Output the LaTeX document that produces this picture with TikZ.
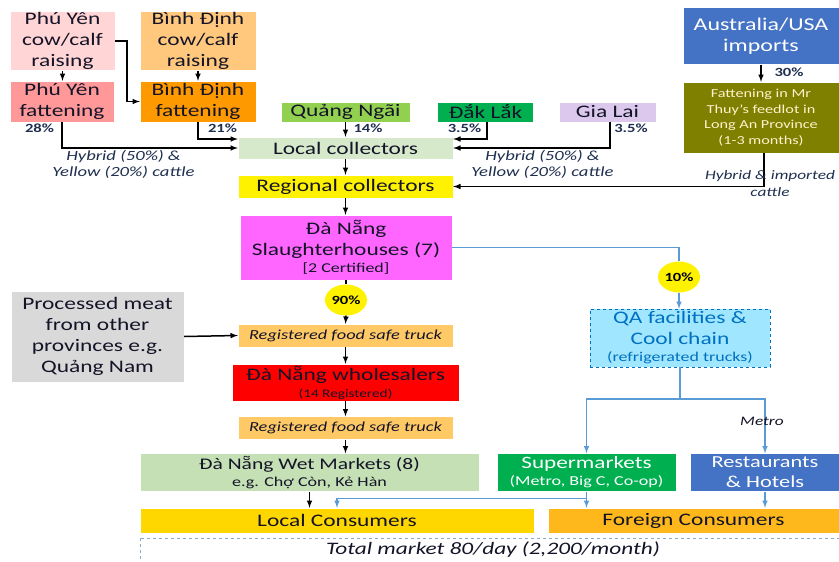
\documentclass[tikz,border=0pt]{standalone}
\usepackage{fontspec}
\setmainfont{Carlito}[FakeStretch=1.33]
\usetikzlibrary{shapes.geometric}

\definecolor{pyraisec}{HTML}{FFD5D5}
\definecolor{bdraisec}{HTML}{FFC87C}
\definecolor{pyfatc}{HTML}{FF9999}
\definecolor{bdfatc}{HTML}{FF9900}
\definecolor{qngaic}{HTML}{92D050}
\definecolor{greenc}{HTML}{00B050}
\definecolor{gialaic}{HTML}{DCC8EC}
\definecolor{localcolc}{HTML}{D6EACB}
\definecolor{bluec}{HTML}{4472C4}
\definecolor{olivec}{HTML}{7F7F00}
\definecolor{creamc}{HTML}{FFF2CC}
\definecolor{magc}{HTML}{FF66FF}
\definecolor{greyc}{HTML}{D9D9D9}
\definecolor{truckc}{HTML}{FFC966}
\definecolor{wetc}{HTML}{C5E0B4}
\definecolor{qac}{HTML}{A0E6FF}
\definecolor{qatext}{HTML}{0070C0}
\definecolor{goldc}{HTML}{FFD700}
\definecolor{ambc}{HTML}{FFB81C}
\definecolor{linkc}{HTML}{5B9BD5}
\definecolor{navyc}{HTML}{1F2F4F}
\definecolor{inkc}{HTML}{141428}
\definecolor{dashc}{HTML}{8EA9C8}

\tikzset{
  box/.style={rectangle, inner sep=1pt, align=center, text=inkc, draw=white, line width=0.4pt},
  big/.style={font=\fontsize{17.6}{21}\selectfont},
  pct/.style={font=\bfseries\fontsize{12.5}{14}\selectfont, text=navyc},
  note/.style={font=\itshape\fontsize{14}{16}\selectfont, text=navyc, align=center},
  bubble/.style={ellipse, fill=yellow, inner sep=0pt, minimum width=42pt, minimum height=31pt, font=\bfseries\fontsize{12.5}{14}\selectfont},
  arr/.style={-latex, line width=1.5pt},
  barr/.style={-latex, line width=1.5pt, color=linkc},
  bline/.style={line width=1.5pt, color=linkc}
}

\begin{document}
\begin{tikzpicture}[x=1pt, y=-1pt]
  \useasboundingbox (0, 0) rectangle (839, 562);

  % sources
  \draw (62.5, 41) node[box, big, fill=pyraisec, minimum width=105pt, minimum height=58pt] (pyraise) {Phú Yên\\cow/calf\\raising};
  \draw (198, 41) node[box, big, fill=bdraisec, minimum width=116pt, minimum height=58pt] (bdraise) {Bình Định\\cow/calf\\raising};
  \draw (62, 101.5) node[box, big, fill=pyfatc, minimum width=104pt, minimum height=41pt] (pyfat) {Phú Yên\\fattening};
  \draw (198, 101.5) node[box, big, fill=bdfatc, minimum width=116pt, minimum height=41pt] (bdfat) {Bình Định\\fattening};
  \draw (345.5, 112) node[box, big, fill=qngaic, minimum width=129pt, minimum height=20pt] (qngai) {Quảng Ngãi};
  \draw (485.5, 112) node[box, big, fill=greenc, minimum width=96pt, minimum height=20pt] (daklak) {Đắk Lắk};
  \draw (607.5, 112) node[box, big, fill=gialaic, minimum width=97pt, minimum height=20pt] (gialai) {Gia Lai};
  \draw (761, 36) node[box, fill=bluec, text=white, minimum width=156pt, minimum height=57pt, font=\fontsize{18}{21}\selectfont] (ausimp) {Australia/USA\\imports};
  \draw (761, 117.5) node[box, fill=olivec, text=creamc, minimum width=156pt, minimum height=71pt, font=\fontsize{12.2}{15.5}\selectfont] (feedlot) {Fattening in Mr\\Thuy’s feedlot in\\Long An Province\\(1-3 months)};

  % collectors
  \draw (345.5, 148) node[box, big, fill=localcolc, minimum width=215pt, minimum height=22pt] (localcol) {Local collectors};
  \draw (345.5, 186.5) node[box, big, fill=yellow, minimum width=215pt, minimum height=23pt] (regcol) {Regional collectors};

  % slaughter and trade
  \draw (346, 247.5) node[box, big, fill=magc, minimum width=212pt, minimum height=65pt] (slaughter) {Đà Nẵng\\Slaughterhouses (7)\\[-4pt]{\fontsize{13.5}{15}\selectfont [2 Certified]}};
  \draw (346, 300) node[bubble] (p90) {90\%};
  \draw (679, 277) node[bubble] (p10) {10\%};
  \draw (97.5, 336.5) node[box, big, fill=greyc, minimum width=173pt, minimum height=91pt] (processed) {Processed meat\\from other\\provinces e.g.\\Quảng Nam};
  \draw (345.5, 335.5) node[box, fill=truckc, minimum width=215pt, minimum height=23pt, font=\itshape\fontsize{13.8}{16}\selectfont] (truckA) {Registered food safe truck};
  \draw (345.5, 382.5) node[box, fill=red, minimum width=227pt, minimum height=37pt, font=\fontsize{17.6}{17}\selectfont] (wholesale) {Đà Nẵng wholesalers\\{\fontsize{11.5}{13}\selectfont (14 Registered)}};
  \draw (345.5, 428) node[box, fill=truckc, minimum width=215pt, minimum height=23pt, font=\itshape\fontsize{13.8}{16}\selectfont] (truckB) {Registered food safe truck};
  \draw (680, 338) node[box, big, fill=qac, text=qatext, draw=qatext, dashed, minimum width=180pt, minimum height=58pt] (qa) {QA facilities \&\\Cool chain\\[-4pt]{\fontsize{13.5}{15}\selectfont (refrigerated trucks)}};

  % retail
  \draw (309.5, 472.5) node[box, fill=wetc, minimum width=339pt, minimum height=38pt, font=\fontsize{16.2}{19}\selectfont] (wetmkt) {Đà Nẵng Wet Markets (8)\\[-2pt]{\fontsize{13.6}{16}\selectfont e.g. Chợ Còn, Kẻ Hàn}};
  \draw (586.5, 472.5) node[box, fill=greenc, text=white, minimum width=179pt, minimum height=38pt, font=\fontsize{17.4}{19}\selectfont] (supermkt) {Supermarkets\\[-2pt]{\fontsize{13.6}{16}\selectfont (Metro, Big C, Co-op)}};
  \draw (765, 472.5) node[box, fill=bluec, text=white, minimum width=150pt, minimum height=38pt, font=\fontsize{16.8}{20}\selectfont] (resto) {Restaurants\\\& Hotels};
  \draw (337, 520.5) node[box, big, fill=goldc, minimum width=394pt, minimum height=25pt] (localcon) {Local Consumers};
  \draw (693.5, 520.5) node[box, big, fill=ambc, minimum width=291pt, minimum height=25pt] (foreigncon) {Foreign Consumers};
  \draw[dashc, dashed] (140, 538) rectangle (845, 570);
  \node[font=\itshape\fontsize{17.5}{20}\selectfont, text=inkc] at (493, 550) (total) {Total market 80/day (2,200/month)};

  % supply links
  \draw[arr] (pyraise.south) -- (pyraise.south |- pyfat.north);
  \draw[arr] (bdraise.south) -- (bdraise.south |- bdfat.north);
  \draw[arr] (pyraise.east) -- ++(12, 0) |- (bdfat.west);
  \draw[arr] (pyfat.south) |- (localcol.west);
  \draw[arr] (bdfat.south) |- ([yshift=9pt]localcol.west);
  \draw[arr] (qngai.south) -- (qngai.south |- localcol.north);
  \draw[arr] ([xshift=1.5pt]daklak.south) |- ([yshift=9pt]localcol.east);
  \draw[arr] ([xshift=2.5pt]gialai.south) |- (localcol.east);
  \draw[arr] (ausimp.south) -- (ausimp.south |- feedlot.north);
  \draw[arr] ([xshift=3pt]feedlot.south) |- (regcol.east);
  \draw[arr] (localcol.south) -- (regcol.north);
  \draw[arr] (regcol.south) -- (regcol.south |- slaughter.north);

  \node[pct] at (39.5, 128) {28\%};
  \node[pct] at (222.5, 128) {21\%};
  \node[pct] at (368, 128) {14\%};
  \node[pct] at (464.5, 128) {3.5\%};
  \node[pct] at (631, 128) {3.5\%};
  \node[pct] at (789, 72) {30\%};
  \node[note] at (123.5, 164.5) {Hybrid (50\%) \&\\Yellow (20\%) cattle};
  \node[note] at (542.5, 164.5) {Hybrid (50\%) \&\\Yellow (20\%) cattle};
  \node[note, font=\itshape\fontsize{13}{17}\selectfont] at (770, 184) {Hybrid \& imported\\cattle};

  % distribution links
  \draw[line width=1.5pt] (slaughter.south) -- (p90.north);
  \draw[arr] (p90.south) -- (truckA.north);
  \draw[bline] (slaughter.east) -| (p10.north);
  \draw[barr] (p10.south) -- (p10.south |- qa.north);
  \draw[arr] (processed.east) -- (truckA.west);
  \draw[arr] (truckA.south) -- (truckA.south |- wholesale.north);
  \draw[arr] (wholesale.south) -- (wholesale.south |- truckB.north);
  \draw[arr] (truckB.south) -- (truckB.south |- wetmkt.north);
  \draw[bline] (qa.south) -- ++(0, 32) coordinate (qasplit);
  \draw[barr] (qasplit) -| (supermkt.north);
  \draw[barr] (qasplit) -| (resto.north);
  \node[note, text=inkc, font=\itshape\fontsize{13}{15}\selectfont] at (762, 421) {Metro};
  \draw[arr] (wetmkt.south) -- (wetmkt.south |- localcon.north);
  \draw[barr] (supermkt.south) -- (supermkt.south |- foreigncon.north);
  \draw[barr] ([yshift=-7pt]supermkt.south) -| (localcon.north);
  \draw[barr] (resto.south) -- (resto.south |- foreigncon.north);
\end{tikzpicture}
\end{document}
